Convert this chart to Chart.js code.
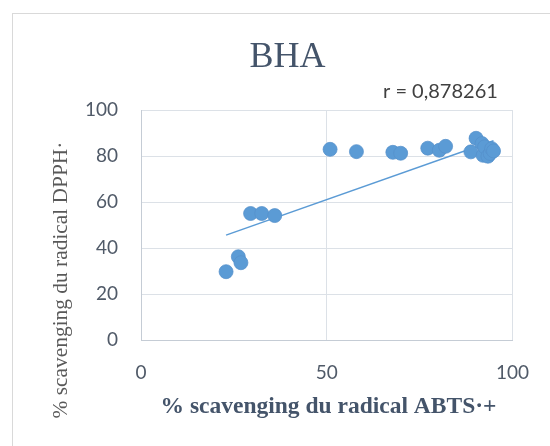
<!DOCTYPE html>
<html>
<head>
<meta charset="utf-8">
<script src="https://cdn.jsdelivr.net/npm/chart.js@4"></script>
<style>
  html, body { margin: 0; padding: 0; background: #fff; }
  #wrap { position: relative; width: 550px; height: 446px; overflow: hidden; }
  #frame { position: absolute; left: 12px; top: 13px; width: 600px; height: 500px;
           border: 1px solid #D9D9D9; box-sizing: border-box; }
  canvas { position: absolute; left: 0; top: 0; }
</style>
</head>
<body>
<div id="wrap">
  <div id="frame"></div>
  <canvas id="c" width="550" height="446"></canvas>
</div>
<script>
// % scavenging of the ABTS·+ radical (x) vs DPPH· radical (y)
const abts = [22.9, 26.2, 26.9, 29.5, 32.5, 36.0, 50.9, 58.0, 67.8, 69.9, 77.2,
              80.3, 82.0, 88.8, 90.2, 91.8, 92.1, 92.5, 93.4, 94.0, 94.4, 94.9];
const dpph = [29.7, 36.2, 33.6, 55.0, 55.0, 54.1, 82.9, 81.9, 81.6, 81.2, 83.4,
              82.5, 84.2, 81.8, 87.7, 85.4, 80.3, 84.0, 79.9, 81.1, 83.2, 82.2];

// linear trend line endpoints
const trendX = [22.9, 94.9];
const trendY = [45.6, 86.6];

const xTicks = [0, 50, 100];
const yTicks = [0, 20, 40, 60, 80, 100];

const chartTitle = 'BHA';
const rLabel = 'r = 0,878261';
const xTitle = '% scavenging du radical ABTS\u00B7+';
const yTitle = '% scavenging du radical DPPH\u00B7';

const points = abts.map((x, i) => ({ x: x, y: dpph[i] }));
const trend = trendX.map((x, i) => ({ x: x, y: trendY[i] }));

const textPlugin = {
  id: 'texts',
  afterDraw(chart) {
    const ctx = chart.ctx;
    ctx.save();
    ctx.fillStyle = '#44546A';
    ctx.textAlign = 'center';
    ctx.textBaseline = 'alphabetic';
    ctx.font = '36px "Liberation Serif"';
    ctx.fillText(chartTitle, 287.5, 67);

    ctx.fillStyle = '#404040';
    ctx.font = '20px Lato';
    ctx.textAlign = 'left';
    ctx.fillText(rLabel, 383, 98);

    ctx.fillStyle = '#44546A';
    ctx.textAlign = 'center';
    ctx.font = 'bold 23.5px "Liberation Serif"';
    ctx.fillText(xTitle, 328.5, 413);

    ctx.fillStyle = '#595959';
    ctx.font = '21.4px "Liberation Serif"';
    ctx.translate(67, 280);
    ctx.rotate(-Math.PI / 2);
    ctx.fillText(yTitle, 0, 0);
    ctx.restore();
  }
};

new Chart(document.getElementById('c'), {
  type: 'scatter',
  data: {
    datasets: [
      {
        data: points,
        backgroundColor: '#5B9BD5',
        borderColor: '#5690CB',
        borderWidth: 0.75,
        pointRadius: 7,
        pointHoverRadius: 7,
        order: 1
      },
      {
        type: 'line',
        data: trend,
        borderColor: '#5B9BD5',
        borderWidth: 1.5,
        pointRadius: 0,
        fill: false,
        order: 2
      }
    ]
  },
  plugins: [textPlugin],
  options: {
    responsive: false,
    animation: false,
    events: [],
    layout: { padding: { left: 0, right: 34, top: 110, bottom: 0 } },
    plugins: { legend: { display: false }, tooltip: { enabled: false }, title: { display: false } },
    scales: {
      x: {
        type: 'linear',
        min: 0, max: 100,
        afterFit(s) { s.height = 106; },
        afterBuildTicks(s) { s.ticks = xTicks.map(v => ({ value: v })); },
        grid: { color: '#DCE1E7', lineWidth: 1, drawTicks: false },
        border: { color: '#C5CCD5', width: 1 },
        ticks: { padding: 21, color: '#505A68', font: { family: 'Lato', size: 19 } }
      },
      y: {
        type: 'linear',
        min: 0, max: 100,
        afterFit(s) { s.width = 141; },
        afterBuildTicks(s) { s.ticks = yTicks.map(v => ({ value: v })); },
        grid: { color: '#DCE1E7', lineWidth: 1, drawTicks: false },
        border: { color: '#C5CCD5', width: 1 },
        ticks: { padding: 23, color: '#505A68', font: { family: 'Lato', size: 19 } }
      }
    }
  }
});
</script>
</body>
</html>
